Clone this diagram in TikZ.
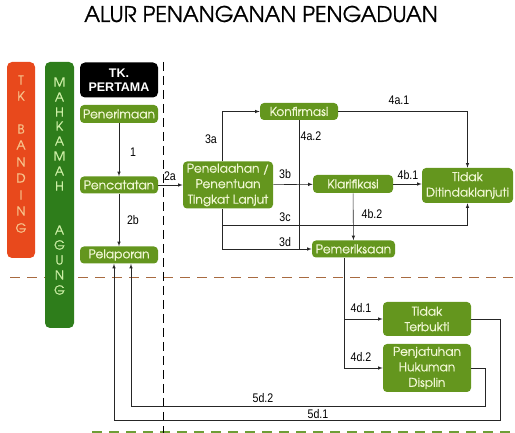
\documentclass[tikz,border=0pt]{standalone}
\usepackage{fontspec}
\setmainfont{Liberation Sans}
\newfontfamily\gothic[Extension=.otf,UprightFont=*-regular,BoldFont=*-bold]{texgyreadventor}
\newfontfamily\gothicfat[Extension=.otf,UprightFont=*-regular,FakeBold=0.8]{texgyreadventor}
\newfontfamily\narrow[FakeStretch=0.85]{Liberation Sans}
\usetikzlibrary{calc}
\definecolor{boxgreen}{HTML}{64961E}
\definecolor{boxtext}{HTML}{F2F8D6}
\definecolor{bandred}{HTML}{E8491C}
\definecolor{bandtext}{HTML}{F7C38C}
\definecolor{magreen}{HTML}{2E7D1B}
\definecolor{matext}{HTML}{CDEFA6}
\definecolor{dashbrown}{HTML}{A86A40}
\definecolor{dashgreen}{HTML}{6E9E36}

\begin{document}
\begin{tikzpicture}[%
        x = 1pt, y = -1pt,
        >= latex,
        line width = 0.6pt,
        stage/.style = {rectangle, rounded corners = 4pt, fill = boxgreen, text = boxtext,
                        font = \gothicfat\fontsize{12.2}{15.5}\selectfont, align = center, inner sep = 1pt},
        band/.style = {rectangle, rounded corners = 5pt, inner sep = 0pt},
        letter/.style = {font = \gothicfat\fontsize{12.5}{12}\selectfont, inner sep = 0pt},
        flow/.style = {->, draw = black!85},
        lbl/.style = {font = \narrow\fontsize{12.5}{13}\selectfont, inner sep = 1pt},
        ]

\useasboundingbox (0,0) rectangle (515,433);
% \draw[help lines, step = 50] (0,0) grid (515,433);

\node (title) [font = \gothicfat\fontsize{21.5}{24}\selectfont] at (261,14) {ALUR PENANGANAN PENGADUAN};

% garis batas
\draw[dashbrown, line width = 1pt, dash pattern = on 10pt off 7pt] (10,278) -- (515,278);
\draw[dashgreen, line width = 1.5pt, dash pattern = on 10pt off 7pt] (92,432) -- (515,432);
\draw[black, line width = 1pt, dash pattern = on 9pt off 5pt] (163,62) -- (163,433);


\node (banding) [band, fill = bandred, minimum width = 28, minimum height = 196] at (21,160) {};
\foreach \CH/\Y in {T/80,K/96,B/129,A/145,N/162,D/178,I/195,N/211,G/228}{
    \node (tk\Y) [letter, text = bandtext] at (21,\Y) {\CH};
    }

\node (agung) [band, fill = magreen, minimum width = 29, minimum height = 266] at (59.5,195) {};
\foreach \CH/\Y in {M/82,A/97,H/112,K/126,A/141,M/156,A/171,H/186,A/230,G/245,U/260,N/275,G/290}{
    \node (ma\Y) [letter, text = matext] at (59.5,\Y) {\CH};
    }


\node (pertama) [band, fill = black, text = white, align = center, minimum width = 78, minimum height = 35,
    font = \bfseries\fontsize{12.5}{14}\selectfont] at (119,80) {TK.\\PERTAMA};

\node (terima) [stage, minimum width = 78, minimum height = 18] at (119,114) {Penerimaan};
\node (catat) [stage, minimum width = 78, minimum height = 17] at (119,185) {Pencatatan};
\node (lapor) [stage, minimum width = 78, minimum height = 17] at (119,255) {Pelaporan};

\node (telaah) [stage, minimum width = 90, minimum height = 47] at (228,185)
    {Penelaahan /\\Penentuan\\Tingkat Lanjut};
\node (konf) [stage, minimum width = 78, minimum height = 17] at (299,111.5) {Konfirmasi};
\node (klar) [stage, minimum width = 80, minimum height = 18] at (353,184) {Klarifikasi};
\node (periksa) [stage, minimum width = 83, minimum height = 17] at (353.5,249) {Pemeriksaan};
\node (tdk) [stage, minimum width = 91, minimum height = 35] at (467.5,185.5) {Tidak\\Ditindaklanjuti};
\node (terbukti) [stage, minimum width = 88, minimum height = 34] at (427,319) {Tidak\\Terbukti};
\node (hukum) [stage, minimum width = 88, minimum height = 48] at (427,368) {Penjatuhan\\Hukuman\\Displin};


\draw[flow] (terima) -- (catat);
\draw[flow] (catat) -- (lapor);
\draw[flow] (catat) -- (telaah);

\draw[flow] ([xshift = -6pt]telaah.north) |- (konf);
\draw[flow] (telaah) -- (klar);
\coordinate (c3) at (222,225);
\draw[flow] ([xshift = -6pt]telaah.south) -- (c3) -| (tdk.south);
\draw[flow] (c3) |- (periksa);

\draw[flow] (konf) -| (tdk);
\draw[black!85] (konf) -- (konf |- periksa);
\draw[flow] (klar) -- (klar -| tdk.west);
\draw[flow] (klar) -- (periksa);

\draw[flow] ([xshift = -9pt]periksa.south) |- (terbukti);
\draw[flow] ([xshift = -9pt]periksa.south) |- (hukum);

\coordinate (r1) at (500,420);
\coordinate (r2) at (485,406);
\draw[flow] (terbukti) -| (r1) -| ([xshift = -5pt]lapor.south);
\draw[flow] (hukum) -| (r2) -| ([xshift = 12pt]lapor.south);


\node (l1) [lbl] at (133,152) {1};
\node (l2b) [lbl] at (133,220) {2b};
\node (l2a) [lbl] at (170,176) {2a};
\node (l3a) [lbl] at (211,139) {3a};
\node (l3b) [lbl] at (285,174) {3b};
\node (l3c) [lbl] at (285,217) {3c};
\node (l3d) [lbl] at (285,242) {3d};
\node (l4a1) [lbl] at (399,100) {4a.1};
\node (l4a2) [lbl] at (311,136) {4a.2};
\node (l4b1) [lbl] at (408,175) {4b.1};
\node (l4b2) [lbl] at (372,214) {4b.2};
\node (l4d1) [lbl] at (361,308) {4d.1};
\node (l4d2) [lbl] at (361,357) {4d.2};
\node (l5d1) [lbl] at (318,414) {5d.1};
\node (l5d2) [lbl] at (263,398) {5d.2};

\end{tikzpicture}
\end{document}
